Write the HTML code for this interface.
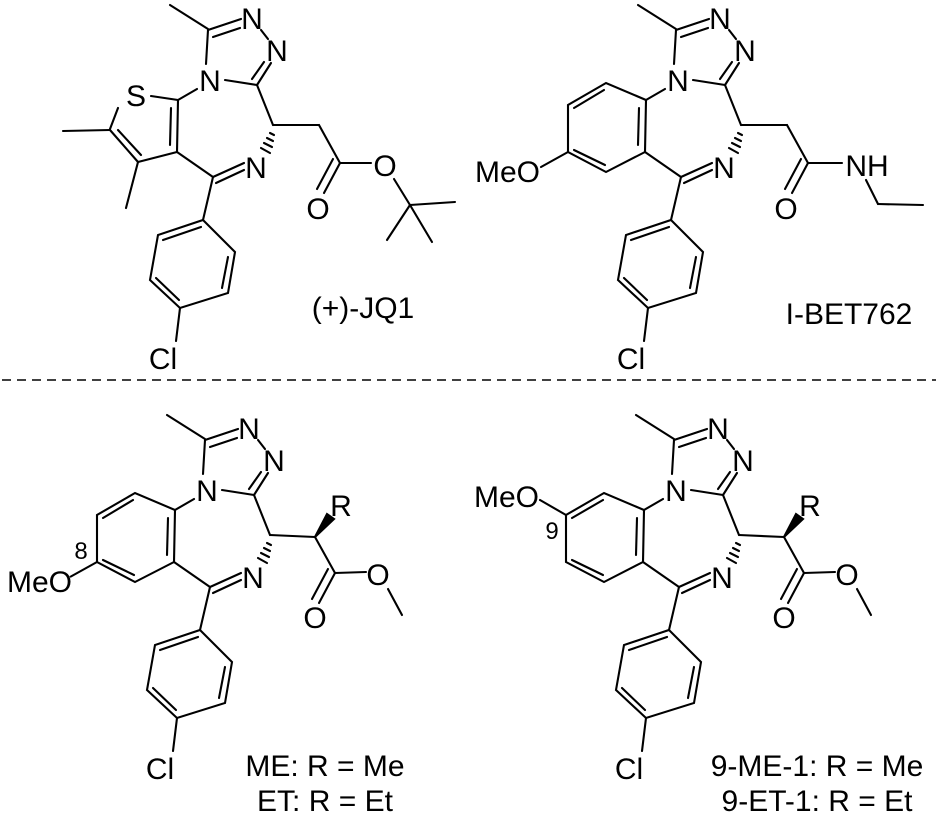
<!DOCTYPE html>
<html><head><meta charset="utf-8"><style>
html,body{margin:0;padding:0;background:#fff;}
svg{display:block;}
text{font-family:"Liberation Sans",Arial,sans-serif;fill:#000;}
</style></head><body>
<svg width="936" height="814" viewBox="0 0 936 814" xmlns="http://www.w3.org/2000/svg">
<defs>
<g id="core" stroke="#000" stroke-width="2.1" fill="none" stroke-linecap="round">
  <line x1="170" y1="5" x2="208" y2="29"/>
  <line x1="208" y1="30" x2="241" y2="19"/>
  <line x1="213" y1="37" x2="240" y2="28"/>
  <line x1="261" y1="30" x2="268" y2="39"/>
  <line x1="271" y1="63" x2="257" y2="85"/>
  <line x1="264" y1="62" x2="252" y2="79"/>
  <line x1="257" y1="85" x2="225" y2="80"/>
  <line x1="208" y1="30" x2="206" y2="64"/>
  <line x1="197" y1="89" x2="178" y2="100"/>
  <line x1="257" y1="85" x2="273" y2="125"/>
  <line x1="244" y1="163" x2="213" y2="177"/>
  <line x1="244" y1="170" x2="216" y2="183"/>
  <line x1="213" y1="177" x2="177" y2="152"/>
  <line x1="178" y1="100" x2="177" y2="152"/>
  <line x1="171" y1="108" x2="170" y2="145"/>
  <line x1="270" y1="133" x2="274" y2="135"/>
  <line x1="267" y1="138" x2="273" y2="141"/>
  <line x1="264" y1="143" x2="272" y2="147"/>
  <line x1="261" y1="148" x2="270" y2="153"/>
  <line x1="213" y1="177" x2="203" y2="220"/>
  <polygon points="203,220 235,252 228,293 180,308 150,280 158,235"/>
  <line x1="201" y1="227" x2="163" y2="240"/>
  <line x1="228" y1="257" x2="222" y2="288"/>
  <line x1="179" y1="300" x2="156" y2="278"/>
  <line x1="180" y1="308" x2="176" y2="341"/>
</g>
<g id="benz" stroke="#000" stroke-width="2.1" fill="none" stroke-linecap="round">
  <polyline points="178,100 138,83 100,105 100,152 138,172 177,152"/>
  <line x1="136" y1="90" x2="106" y2="108"/>
  <line x1="106" y1="150" x2="137" y2="165"/>
</g>
<g id="ester" stroke="#000" stroke-width="2.1" fill="none" stroke-linecap="round">
  <line x1="273" y1="125" x2="318" y2="127"/>
  <polygon points="318,127 330,104 337,109" fill="#000"/>
  <line x1="318" y1="127" x2="338" y2="163"/>
  <line x1="338" y1="163" x2="322" y2="193"/>
  <line x1="331" y1="159" x2="315" y2="189"/>
  <line x1="338" y1="163" x2="369" y2="162"/>
  <line x1="391" y1="179" x2="405" y2="205"/>
</g>
</defs>

<g font-size="30" text-anchor="middle">
<g>
  <use href="#core"/>
  <g stroke="#000" stroke-width="2.1" fill="none" stroke-linecap="round">
    <line x1="178" y1="100" x2="151" y2="96"/>
    <line x1="118" y1="108" x2="110" y2="129"/>
    <line x1="110" y1="130" x2="138" y2="162"/>
    <line x1="118" y1="130" x2="141" y2="155"/>
    <line x1="138" y1="162" x2="177" y2="152"/>
    <line x1="110" y1="130" x2="63" y2="131"/>
    <line x1="138" y1="162" x2="126" y2="208"/>
    <line x1="273" y1="125" x2="319" y2="125"/>
    <line x1="319" y1="125" x2="340" y2="163"/>
    <line x1="340" y1="163" x2="324" y2="193"/>
    <line x1="333" y1="159" x2="317" y2="189"/>
    <line x1="340" y1="163" x2="371" y2="163"/>
    <line x1="394" y1="179" x2="410" y2="205"/>
    <line x1="410" y1="205" x2="455" y2="202"/>
    <line x1="410" y1="205" x2="387" y2="240"/>
    <line x1="410" y1="205" x2="432" y2="242"/>
  </g>
  <text x="252" y="29">N</text><text x="277" y="61">N</text><text x="210" y="91">N</text>
  <text x="256" y="178">N</text><text x="136" y="106">S</text>
  <text x="318" y="219">O</text><text x="385" y="176">O</text>
  <text x="163" y="369">Cl</text>
  <text x="363" y="318">(+)-JQ1</text>
</g>

<g transform="translate(468,0)">
  <use href="#core"/><use href="#benz"/>
  <g stroke="#000" stroke-width="2.1" fill="none" stroke-linecap="round">
    <line x1="100" y1="152" x2="73" y2="167"/>
    <line x1="273" y1="125" x2="319" y2="125"/>
    <line x1="319" y1="125" x2="340" y2="163"/>
    <line x1="340" y1="163" x2="324" y2="193"/>
    <line x1="333" y1="159" x2="317" y2="189"/>
    <line x1="340" y1="163" x2="374" y2="163"/>
    <line x1="398" y1="180" x2="410" y2="204"/>
    <line x1="410" y1="204" x2="455" y2="205"/>
  </g>
  <text x="252" y="29">N</text><text x="277" y="61">N</text><text x="210" y="91">N</text>
  <text x="256" y="178">N</text>
  <text x="72" y="182" text-anchor="end">MeO</text>
  <text x="318" y="219">O</text><text x="399" y="176">NH</text>
  <text x="163" y="369">Cl</text>
  <text x="381" y="324">I-BET762</text>
</g>

<line x1="2" y1="380" x2="936" y2="380" stroke="#000" stroke-width="1.6" stroke-dasharray="9,6"/>

<g transform="translate(-3,410)">
  <use href="#core"/><use href="#benz"/><use href="#ester"/>
  <line x1="100" y1="152" x2="73" y2="167" stroke="#000" stroke-width="2.1"/>
  <text x="252" y="29">N</text><text x="277" y="61">N</text><text x="210" y="91">N</text>
  <text x="256" y="178">N</text>
  <text x="75" y="182" text-anchor="end">MeO</text>
  <text x="84" y="149" font-size="24">8</text>
  <text x="344" y="106">R</text>
  <text x="318" y="218">O</text><text x="381" y="175">O</text>
  <text x="163" y="369">Cl</text>
  <text x="328" y="366">ME: R = Me</text>
  <text x="328" y="401">ET: R = Et</text>
</g>

<g transform="translate(466,410)">
  <use href="#core"/>
  <g stroke="#000" stroke-width="2.1" fill="none" stroke-linecap="round">
    <polyline points="178,100 138,83 100,105 100,152 138,172 177,152"/>
    <line x1="137" y1="90" x2="106" y2="108"/>
    <line x1="106" y1="150" x2="137" y2="165"/>
    <line x1="100" y1="105" x2="74" y2="90"/>
  </g>
  <use href="#ester"/>
  <text x="252" y="29">N</text><text x="277" y="61">N</text><text x="210" y="91">N</text>
  <text x="256" y="178">N</text>
  <text x="73" y="97" text-anchor="end">MeO</text>
  <text x="86" y="129" font-size="24">9</text>
  <text x="344" y="106">R</text>
  <text x="318" y="218">O</text><text x="381" y="175">O</text>
  <text x="163" y="369">Cl</text>
  <text x="351" y="366">9-ME-1: R = Me</text>
  <text x="351" y="401">9-ET-1: R = Et</text>
</g>
</g>
</svg>
</body></html>
